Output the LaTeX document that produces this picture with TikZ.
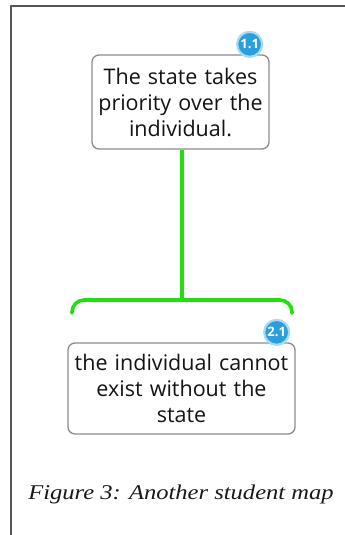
\documentclass[tikz,border=0pt]{standalone}
\usepackage{fontspec}
\usepackage{xcolor}
\newfontfamily\mapfont{Open Sans}
\newfontfamily\capfont[FakeStretch=1.17]{Liberation Serif}
\definecolor{Link}{HTML}{22E00E}
\definecolor{Badge}{HTML}{2B9FDC}
\definecolor{BadgeRing}{HTML}{A8DAF4}
\definecolor{Frame}{HTML}{555555}
\tikzset{
    claim/.style={draw=black!45,line width=1.3pt,rounded corners=7pt,fill=white,
        text=black!92,align=center,font=\mapfont\fontsize{21.5}{26}\selectfont,inner sep=2pt},
    badge/.style={circle,fill=Badge,draw=BadgeRing,line width=2.2pt,minimum size=25pt,inner sep=0pt,
        text=white,font=\mapfont\bfseries\fontsize{13}{14}\selectfont},
    link/.style={draw=Link,line width=3.6pt}
}

\begin{document}
\begin{tikzpicture}[line cap=round,line join=round,x=1pt,y=-1pt]
    \useasboundingbox (0,0) rectangle (345,535);
    \draw [line width=2pt,color=Frame,line cap=butt] (11,535) -- (11,6) -- (345,6);

    \node[claim,text width=173pt,minimum height=94pt] (state) at (180.5,102) {The state takes\\ priority over the\\ individual.};
    \node[claim,text width=223pt,minimum height=91pt] (indiv) at (181.5,388.5) {the individual cannot\\ exist without the\\ state};

    \coordinate (fork) at (182,300);
    \coordinate (brl) at (72,313);
    \coordinate (brr) at (292,313);
    \draw [link,line cap=butt] (state.south -| fork) -- (fork);
    \draw [link,rounded corners=12pt] (brl) |- (fork) -| (brr);

    \node[badge] (b11) at ([xshift=-20pt,yshift=10pt]state.north east) {1.1};
    \node[badge] (b21) at ([xshift=-19pt,yshift=10pt]indiv.north east) {2.1};

    \node[font=\capfont\itshape\fontsize{21}{24}\selectfont,text=black!90] (cap) at (181,494) {Figure 3: Another student map};
\end{tikzpicture}
\end{document}
